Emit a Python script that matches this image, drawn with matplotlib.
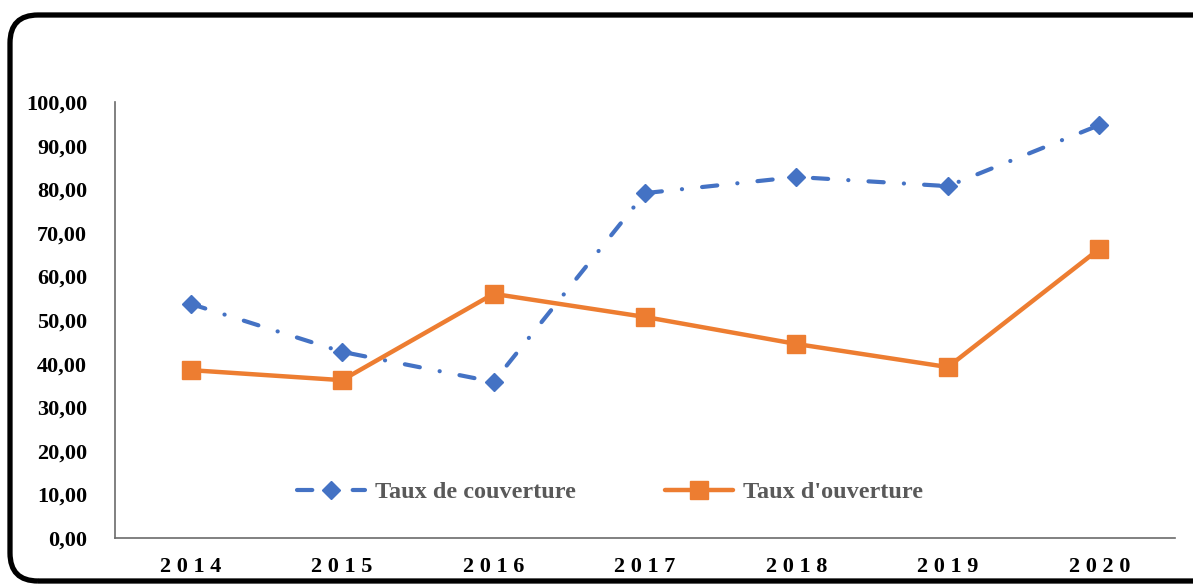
import matplotlib
matplotlib.use("Agg")
import matplotlib.pyplot as plt
from matplotlib.patches import FancyBboxPatch
from matplotlib.transforms import IdentityTransform
from matplotlib.ticker import FuncFormatter

years = ["2014", "2015", "2016", "2017", "2018", "2019", "2020"]
couverture = [53.7, 42.7, 35.8, 79.1, 82.8, 80.7, 94.7]
ouverture = [38.5, 36.2, 56.0, 50.7, 44.5, 39.2, 66.3]
yticks = [0, 10, 20, 30, 40, 50, 60, 70, 80, 90, 100]

plt.rcParams['font.family'] = ['Liberation Serif', 'DejaVu Serif']
plt.rcParams['font.weight'] = 'bold'
plt.rcParams['lines.scale_dashes'] = False

BLUE = '#4472C4'
ORANGE = '#ED7D31'

fig = plt.figure(figsize=(11.93, 5.86), dpi=100)
ax = fig.add_axes([115/1193, 1-538/586, (1175-115)/1193, (538-102)/586])

x = list(range(len(years)))
l1, = ax.plot(x, couverture, color=BLUE, lw=3.0, marker='D', markersize=9,
              dash_capstyle='round', label='Taux de couverture')
l1.set_dashes((11, 14.5, 0.1, 14.5))
ax.plot(x, ouverture, color=ORANGE, lw=3.2, marker='s', markersize=13,
        solid_capstyle='round', label="Taux d'ouverture")

ax.set_xlim(-0.5, len(years) - 0.5)
ax.set_ylim(0, 100)
ax.set_yticks(yticks)
ax.yaxis.set_major_formatter(FuncFormatter(lambda v, p: f"{v:.2f}".replace('.', ',')))
ax.set_xticks(x)
ax.set_xticklabels([' '.join(y) for y in years])
ax.tick_params(axis='both', length=0, labelsize=16, colors='black')
ax.tick_params(axis='x', pad=14)
ax.tick_params(axis='y', pad=20)
for lab in ax.get_xticklabels() + ax.get_yticklabels():
    lab.set_fontweight('bold')
for s in ['top', 'right']:
    ax.spines[s].set_visible(False)
for s in ['left', 'bottom']:
    ax.spines[s].set_color('#6b6b6b')
    ax.spines[s].set_linewidth(1.2)

leg = ax.legend(loc='center', bbox_to_anchor=(0.467, 0.105), ncol=2, frameon=False,
                handlelength=2.8, columnspacing=3.7, handletextpad=0.4,
                prop={'family': ['Liberation Serif'], 'weight': 'bold', 'size': 17.5})
for t in leg.get_texts():
    t.set_color('#595959')

border = FancyBboxPatch((10, 5), 1260, 566, boxstyle='round,pad=0,rounding_size=28',
                        transform=IdentityTransform(), fill=False, edgecolor='black',
                        linewidth=3.8, clip_on=False)
fig.patches.append(border)

fig.savefig('out.png', dpi=100)
